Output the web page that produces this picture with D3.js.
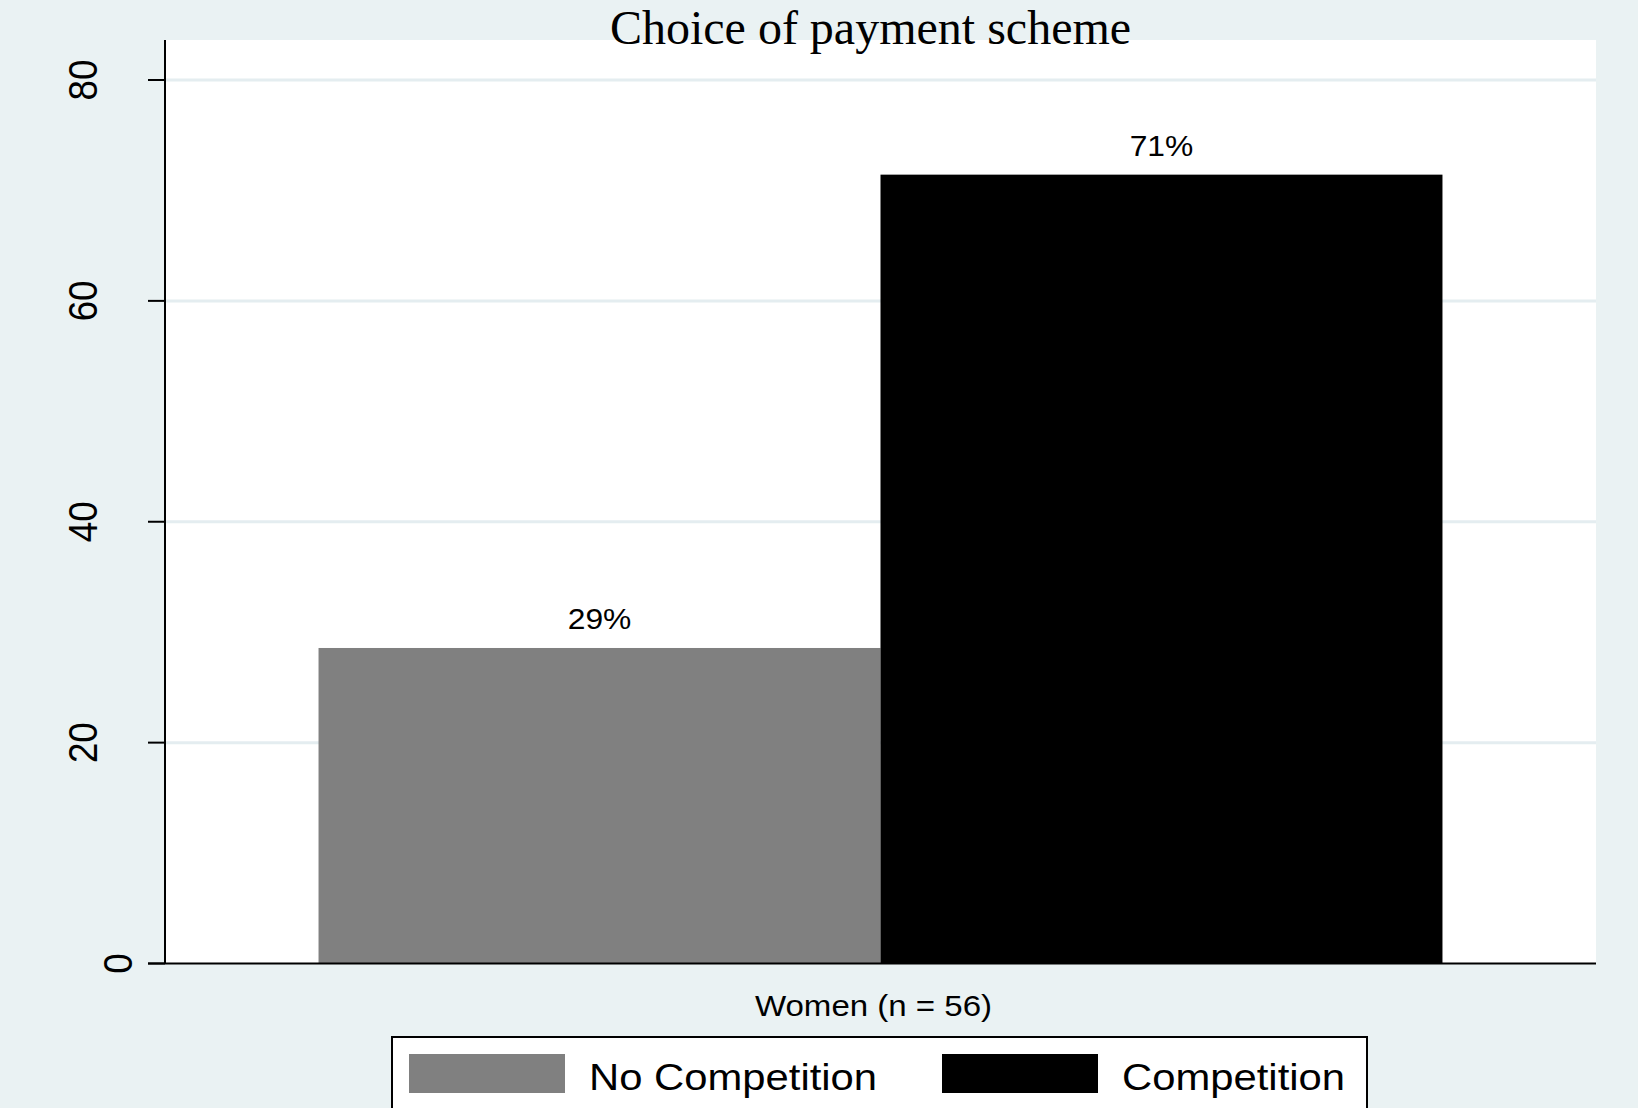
<!DOCTYPE html>
<html>
<head>
<meta charset="utf-8">
<script src="https://cdn.jsdelivr.net/npm/d3@7"></script>
<style>
  html, body { margin: 0; padding: 0; background: #eaf2f3; }
  svg { display: block; }
</style>
</head>
<body>
<div id="chart"></div>
<script>
// ---- data ----
const title = "Choice of payment scheme";
const categories = ["Women (n = 56)"];
const seriesNames = ["No Competition", "Competition"];
const seriesColors = ["#808080", "#000000"];
const values = [28.57, 71.43];          // percent choosing each scheme
const yTicks = [0, 20, 40, 60, 80];

// ---- layout ----
const W = 1638, H = 1108;
const plot = { left: 165, right: 1596, top: 40, bottom: 963.5 };

const svg = d3.select("#chart").append("svg")
  .attr("width", W).attr("height", H);

svg.append("rect").attr("width", W).attr("height", H).attr("fill", "#eaf2f3");

// plot region
svg.append("rect")
  .attr("x", plot.left).attr("y", plot.top)
  .attr("width", plot.right - plot.left).attr("height", plot.bottom - plot.top)
  .attr("fill", "#ffffff");

const y = d3.scaleLinear().domain([0, 80]).range([plot.bottom, 80]);

const x0 = d3.scaleBand().domain(categories)
  .range([plot.left, plot.right]).paddingInner(0).paddingOuter(0.1366);
const x1 = d3.scaleBand().domain(seriesNames)
  .range([0, x0.bandwidth()]).padding(0);

// grid lines
svg.append("g").selectAll("line")
  .data(yTicks.filter(t => t > 0))
  .join("line")
  .attr("x1", plot.left).attr("x2", plot.right)
  .attr("y1", d => y(d)).attr("y2", d => y(d))
  .attr("stroke", "#e4edf0").attr("stroke-width", 3);

// bars
const rows = [];
categories.forEach(c => seriesNames.forEach((s, i) => rows.push({ c, s, i, v: values[i] })));

const g = svg.append("g");
g.selectAll("rect.bar").data(rows).join("rect")
  .attr("class", "bar")
  .attr("x", d => x0(d.c) + x1(d.s))
  .attr("y", d => y(d.v))
  .attr("width", x1.bandwidth())
  .attr("height", d => y(0) - y(d.v))
  .attr("fill", d => seriesColors[d.i]);

// bar value labels
g.selectAll("text.val").data(rows).join("text")
  .attr("class", "val")
  .attr("transform", d => `translate(${x0(d.c) + x1(d.s) + x1.bandwidth() / 2},${y(d.v) - 19}) scale(1.06,1)`)
  .attr("text-anchor", "middle")
  .attr("font-family", "Liberation Sans, Arial, sans-serif")
  .attr("font-size", 30)
  .attr("fill", "#000")
  .text(d => Math.round(d.v) + "%");

// y axis
const yAxis = svg.append("g");
yAxis.append("line")
  .attr("x1", plot.left).attr("x2", plot.left)
  .attr("y1", plot.top).attr("y2", plot.bottom)
  .attr("stroke", "#000").attr("stroke-width", 2);
yAxis.selectAll("line.tick").data(yTicks).join("line")
  .attr("class", "tick")
  .attr("x1", plot.left - 17).attr("x2", plot.left)
  .attr("y1", d => y(d)).attr("y2", d => y(d))
  .attr("stroke", "#000").attr("stroke-width", 2);
yAxis.selectAll("text").data(yTicks).join("text")
  .attr("transform", d => {
    const lbl = String(d);
    const bx = 167 - 35 * lbl.length;
    return `translate(${bx},${y(d)}) rotate(-90) scale(0.92,1)`;
  })
  .attr("text-anchor", "middle")
  .attr("font-family", "Liberation Sans, Arial, sans-serif")
  .attr("font-size", 40)
  .attr("fill", "#000")
  .text(d => d);

// x axis line
svg.append("line")
  .attr("x1", plot.left - 17).attr("x2", plot.right)
  .attr("y1", plot.bottom).attr("y2", plot.bottom)
  .attr("stroke", "#000").attr("stroke-width", 2);

// category label
svg.selectAll("text.cat").data(categories).join("text")
  .attr("class", "cat")
  .attr("transform", d => `translate(${x0(d) + x0.bandwidth() / 2 - 7},1016) scale(1.14,1)`)
  .attr("text-anchor", "middle")
  .attr("font-family", "Liberation Sans, Arial, sans-serif")
  .attr("font-size", 29)
  .attr("fill", "#000")
  .text(d => d);

// title
svg.append("text")
  .attr("x", (plot.left + plot.right) / 2 - 10).attr("y", 44)
  .attr("text-anchor", "middle")
  .attr("font-family", "Liberation Serif, Times New Roman, serif")
  .attr("font-size", 48)
  .attr("fill", "#000")
  .text(title);

// legend
const legend = svg.append("g");
legend.append("rect")
  .attr("x", 392).attr("y", 1037)
  .attr("width", 1367 - 392).attr("height", 100)
  .attr("fill", "#fff").attr("stroke", "#000").attr("stroke-width", 2);
const legendX = [409, 942];
const items = legend.selectAll("g.item").data(seriesNames).join("g")
  .attr("class", "item")
  .attr("transform", (d, i) => `translate(${legendX[i]},1054)`);
items.append("rect")
  .attr("width", 156).attr("height", 39)
  .attr("fill", (d, i) => seriesColors[i]);
items.append("text")
  .attr("transform", "translate(180,36) scale(1.13,1)")
  .attr("font-family", "Liberation Sans, Arial, sans-serif")
  .attr("font-size", 37)
  .attr("fill", "#000")
  .text(d => d);
</script>
</body>
</html>
